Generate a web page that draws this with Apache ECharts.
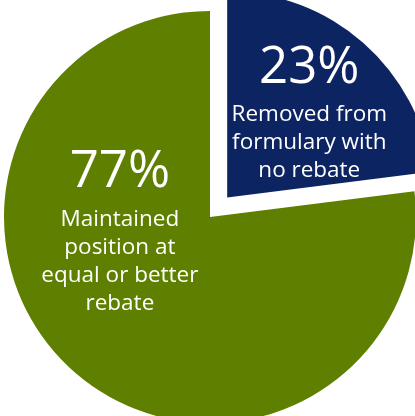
<!DOCTYPE html>
<html>
<head>
<meta charset="utf-8">
<script src="https://cdn.jsdelivr.net/npm/echarts@6/dist/echarts.min.js"></script>
<style>html,body{margin:0;padding:0;background:#fff}#c{width:415px;height:416px}</style>
</head>
<body>
<div id="c"></div>
<script>
var categories = ['Removed from\nformulary with\nno rebate', 'Maintained\nposition at\nequal or better\nrebate'];
var values = [23, 77];
var colors = ['#0c2461', '#5e7f00'];
var labelShift = [[12, -8], [-20, -68]];

var chart = echarts.init(document.getElementById('c'));
chart.setOption({
  animation: false,
  series: [{
    type: 'pie',
    center: [210, 217],
    radius: 206,
    startAngle: 90,
    clockwise: true,
    selectedMode: 'single',
    selectedOffset: 26,
    data: categories.map(function (n, i) {
      return { name: n, value: values[i], selected: i === 0, itemStyle: { color: colors[i] } };
    }),
    label: {
      show: true,
      position: 'inner',
      color: '#fff',
      fontFamily: 'Open Sans',
      align: 'center',
      formatter: function (p) {
        return '{pct|' + p.value + '%}\n' + p.name.split('\n').map(function (s) { return '{txt|' + s + '}'; }).join('\n');
      },
      rich: {
        pct: { fontSize: 51, lineHeight: 66, color: '#fff', fontFamily: 'Open Sans', align: 'center' },
        txt: { fontSize: 22.5, lineHeight: 28, color: '#fff', fontFamily: 'Open Sans', align: 'center' }
      }
    },
    labelLayout: function (p) {
      return { dx: labelShift[p.dataIndex][0], dy: labelShift[p.dataIndex][1] };
    },
    labelLine: { show: false },
    emphasis: { disabled: true }
  }]
});
</script>
</body>
</html>
